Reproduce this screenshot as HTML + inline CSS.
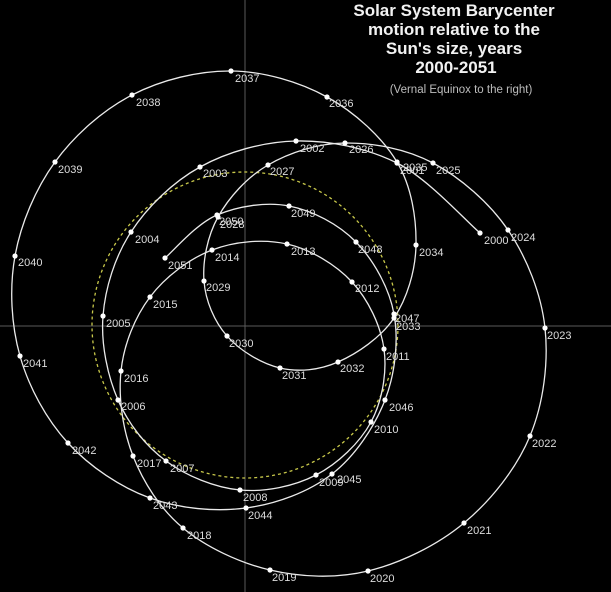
<!DOCTYPE html>
<html><head><meta charset="utf-8"><style>
html,body{margin:0;padding:0;background:#000;}
svg{display:block;}
.t{font-family:"Liberation Sans",Arial,sans-serif;font-weight:bold;font-size:17px;fill:#f2f2f2;text-anchor:middle;}
.s{font-family:"Liberation Sans",Arial,sans-serif;font-size:11.5px;fill:#bdbdbd;text-anchor:middle;}
.l{font-family:"Liberation Sans",Arial,sans-serif;font-size:11px;fill:#dcdcdc;}
</style></head><body>
<svg id="sv" width="611" height="592" viewBox="0 0 611 592" xmlns="http://www.w3.org/2000/svg">
<rect width="611" height="592" fill="#000"/>
<line x1="245" y1="0" x2="245" y2="592" stroke="#5a5a5a" stroke-width="1"/>
<line x1="0" y1="326" x2="611" y2="326" stroke="#5a5a5a" stroke-width="1"/>
<circle cx="245" cy="325" r="153" fill="none" stroke="#c8c84a" stroke-width="1.3" stroke-dasharray="3,3"/>
<path id="p" fill="none" stroke="#eaeaea" stroke-width="1.3"/>
<g id="dots" fill="#fff"></g>
<g class="l">
<text x="484" y="244">2000</text><text x="400" y="174">2001</text><text x="300" y="152">2002</text>
<text x="203" y="177">2003</text><text x="135" y="243">2004</text><text x="106" y="327">2005</text>
<text x="121" y="410">2006</text><text x="170" y="472">2007</text><text x="243" y="501">2008</text>
<text x="319" y="486">2009</text><text x="374" y="433">2010</text><text x="386" y="360">2011</text>
<text x="355" y="292">2012</text><text x="291" y="255">2013</text><text x="215" y="261">2014</text>
<text x="153" y="308">2015</text><text x="124" y="382">2016</text><text x="137" y="467">2017</text>
<text x="187" y="539">2018</text><text x="272" y="581">2019</text><text x="370" y="582">2020</text>
<text x="467" y="534">2021</text><text x="532" y="447">2022</text><text x="547" y="339">2023</text>
<text x="511" y="241">2024</text><text x="436" y="174">2025</text><text x="349" y="153">2026</text>
<text x="270" y="175">2027</text><text x="220" y="228">2028</text><text x="206" y="291">2029</text>
<text x="229" y="347">2030</text><text x="282" y="379">2031</text><text x="340" y="372">2032</text>
<text x="396" y="330">2033</text><text x="419" y="256">2034</text><text x="403" y="171">2035</text>
<text x="329" y="107">2036</text><text x="235" y="82">2037</text><text x="136" y="106">2038</text>
<text x="58" y="173">2039</text><text x="18" y="266">2040</text><text x="23" y="367">2041</text>
<text x="72" y="454">2042</text><text x="153" y="509">2043</text><text x="248" y="519">2044</text>
<text x="337" y="483">2045</text><text x="389" y="411">2046</text><text x="395" y="322">2047</text>
<text x="358" y="253">2048</text><text x="291" y="217">2049</text><text x="219" y="225">2050</text>
<text x="168" y="269">2051</text>
</g>
<text class="t" x="454" y="16">Solar System Barycenter</text>
<text class="t" x="454" y="35">motion relative to the</text>
<text class="t" x="454" y="54">Sun's size, years</text>
<text class="t" x="456" y="73">2000-2051</text>
<text class="s" x="461" y="93">(Vernal Equinox to the right)</text>
</svg>
<script>
var P=[[480,233],[397,163],[296,141],[200,167],[131,232],[103,316],[118,400],[166,461],[240,490],[316,475],[371,422],[384,349],[352,282],[287,244],[212,250],[150,297],[121,371],[133,456],[183,528],[270,570],[368,571],[464,523],[530,436],[545,328],[508,230],[433,163],[345,143],[268,165],[218,217],[204,281],[227,336],[280,368],[338,362],[394,318],[416,245],[397,162],[327,97],[231,71],[132,95],[55,162],[15,256],[20,356],[68,443],[150,498],[246,508],[332,474],[385,400],[394,314],[356,242],[289,206],[217,215],[165,258]];
var d="M"+P[0][0]+","+P[0][1];
for(var i=0;i<P.length-1;i++){
 var p0=P[Math.max(i-1,0)],p1=P[i],p2=P[i+1],p3=P[Math.min(i+2,P.length-1)];
 d+=" C"+(p1[0]+(p2[0]-p0[0])/6).toFixed(1)+","+(p1[1]+(p2[1]-p0[1])/6).toFixed(1)+" "+(p2[0]-(p3[0]-p1[0])/6).toFixed(1)+","+(p2[1]-(p3[1]-p1[1])/6).toFixed(1)+" "+p2[0]+","+p2[1];
}
document.getElementById("p").setAttribute("d",d);
var g=document.getElementById("dots");
P.forEach(function(p){var c=document.createElementNS("http://www.w3.org/2000/svg","circle");c.setAttribute("cx",p[0]);c.setAttribute("cy",p[1]);c.setAttribute("r",2.6);g.appendChild(c);});
</script>
</body></html>
